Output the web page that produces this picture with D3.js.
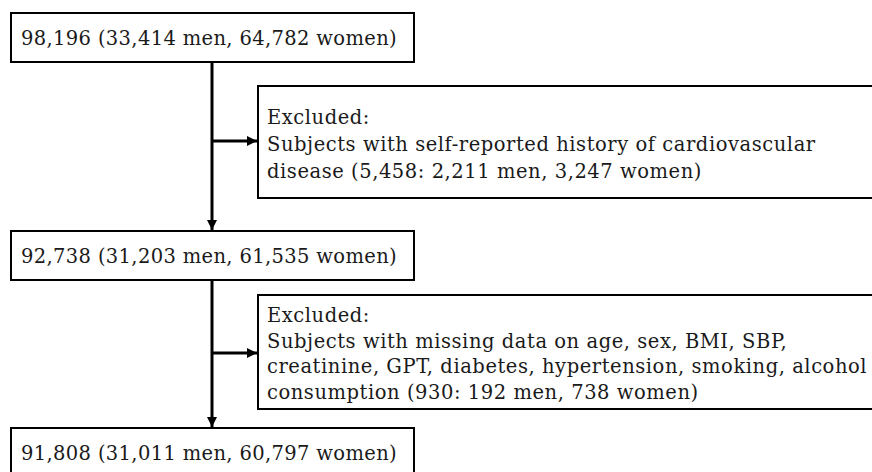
<!DOCTYPE html>
<meta charset="utf-8">
<title>Flow chart of study subjects</title>
<style>
  body { margin: 0; background: #fff; }
  svg text { font-family: "DejaVu Serif", "Liberation Serif", serif; fill: #1a1a1a; }
</style>
<script src="https://d3js.org/d3.v7.min.js"></script>
<div id="chart"></div>
<script>
// subjects left at each step
var counts = ["98,196 (33,414 men, 64,782 women)",
              "92,738 (31,203 men, 61,535 women)",
              "91,808 (31,011 men, 60,797 women)"];

// exclusion reasons, one line per entry
var excludedFirst = ["Excluded:",
                     "Subjects with self-reported history of cardiovascular",
                     "disease (5,458: 2,211 men, 3,247 women)"];
var excludedSecond = ["Excluded:",
                      "Subjects with missing data on age, sex, BMI, SBP,",
                      "creatinine, GPT, diabetes, hypertension, smoking, alcohol",
                      "consumption (930: 192 men, 738 women)"];
var exclusions = [excludedFirst, excludedSecond];

var width = 872, height = 472;
var fontSize = 19.5;

// layout of the boxes
var mainX = 11, mainW = 403, mainH = 49;
var mainTops = [13, 231, 428];
var spineX = 212;
var exX = 258, exW = 640;
var exBoxes = [{top: 86, bottom: 198, arrowY: 141, first: 124, step: 27},
               {top: 295, bottom: 409, arrowY: 353, first: 322, step: 25.5}];

var svg = d3.select("#chart")
  .append("svg")
    .attr("width", width)
    .attr("height", height);

svg.append("defs").append("marker")
    .attr("id", "head")
    .attr("viewBox", "0 0 10 10")
    .attr("refX", 10)
    .attr("refY", 5)
    .attr("markerUnits", "userSpaceOnUse")
    .attr("markerWidth", 10)
    .attr("markerHeight", 10)
    .attr("orient", "auto")
  .append("path")
    .attr("d", "M0,0L10,5L0,10Z")
    .attr("fill", "#000");

// vertical arrows between the count boxes
svg.selectAll("spine")
  .data(d3.pairs(mainTops))
  .enter()
  .append("line")
    .attr("x1", spineX)
    .attr("x2", spineX)
    .attr("y1", function(d) { return d[0] + mainH; })
    .attr("y2", function(d) { return d[1] - 1; })
    .attr("stroke", "#000")
    .attr("stroke-width", 3)
    .attr("marker-end", "url(#head)");

// side arrows into the exclusion boxes
svg.selectAll("side")
  .data(exBoxes)
  .enter()
  .append("line")
    .attr("x1", spineX)
    .attr("x2", exX - 1)
    .attr("y1", function(d) { return d.arrowY; })
    .attr("y2", function(d) { return d.arrowY; })
    .attr("stroke", "#000")
    .attr("stroke-width", 3)
    .attr("marker-end", "url(#head)");

// count boxes
var main = svg.selectAll("mainBox")
  .data(counts)
  .enter()
  .append("g")
    .attr("transform", function(d, i) { return "translate(" + mainX + "," + mainTops[i] + ")"; });
main.append("rect")
    .attr("width", mainW)
    .attr("height", mainH)
    .attr("fill", "#fff")
    .attr("stroke", "#000")
    .attr("stroke-width", 2);
main.append("text")
    .attr("x", 10)
    .attr("y", 32)
    .style("font-size", fontSize + "px")
    .style("letter-spacing", "0.35px")
    .text(function(d) { return d; });

// exclusion boxes
var ex = svg.selectAll("exBox")
  .data(exclusions)
  .enter()
  .append("g");
ex.append("rect")
    .attr("x", exX)
    .attr("y", function(d, i) { return exBoxes[i].top; })
    .attr("width", exW)
    .attr("height", function(d, i) { return exBoxes[i].bottom - exBoxes[i].top; })
    .attr("fill", "#fff")
    .attr("stroke", "#000")
    .attr("stroke-width", 2);
ex.each(function(lines, i) {
  var b = exBoxes[i];
  d3.select(this).selectAll("text")
    .data(lines)
    .enter()
    .append("text")
      .attr("x", exX + 9)
      .attr("y", function(d, j) { return b.first + j * b.step; })
      .style("font-size", fontSize + "px")
      .style("letter-spacing", "0.55px")
      .text(function(d) { return d; });
});
</script>
